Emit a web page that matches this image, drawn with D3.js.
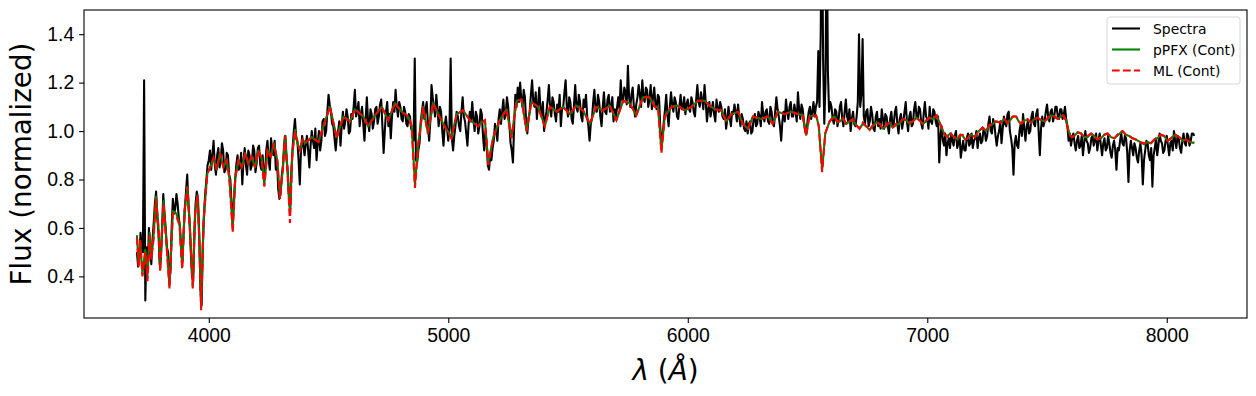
<!DOCTYPE html>
<html>
<head>
<meta charset="utf-8">
<script src="https://cdn.jsdelivr.net/npm/d3@7"></script>
<style>
  body { margin: 0; background: #fff; }
  svg { font-family: "DejaVu Sans", sans-serif; }
  .tick text { font-size: 19.4px; fill: #000; }
  .tick line { stroke: #000; stroke-width: 1.1px; }
  .domain { display: none; }
</style>
</head>
<body>
<div id="chart"></div>
<script>
// observed spectrum, sampled every 5 A from 3700 A (one row = 100 A)
var specStart = 3700;
var specStep = 5;
var specFlux = [
  .50, .44, .47, .58, .52, .50, 1.21, .30, .52, .42, .60, .50, .45, .55, .62, .70, .75, .64, .58, .45,
  .47, .60, .74, .66, .60, .52, .50, .38, .42, .60, .72, .66, .68, .74, .70, .64, .60, .50, .46, .58,
  .68, .75, .82, .70, .62, .50, .40, .38, .58, .70, .75, .72, .58, .35, .28, .52, .66, .74, .80, .86,
  .88, .92, .84, .90, .96, .86, .82, .90, .93, .85, .88, .95, .92, .83, .84, .91, .90, .82, .80, .70,
  .62, .72, .80, .86, .90, .84, .85, .91, .78, .88, .93, .86, .82, .92, .90, .84, .86, .94, .92, .83,
  .87, .93, .94, .86, .84, .90, .80, .83, .92, .96, .88, .84, .97, .92, .90, .96, .84, .88, .76, .72,
  .74, .82, .86, .95, .98, .88, .83, .72, .68, .84, .93, 1.00, 1.05, .97, .96, .88, .78, .92, .98, .94,
  .90, .95, .98, .92, .85, .94, 1.00, .96, .93, 1.01, .88, .95, 1.00, .92, .96, 1.04, 1.05, .98, 1.00, 1.08,
  1.15, 1.11, 1.08, 1.03, 1.02, .97, .92, .98, 1.00, 1.04, .94, 1.02, 1.08, 1.01, 1.04, 1.09, 1.06, .99, 1.00, 1.07,
  1.05, 1.10, 1.17, 1.06, 1.08, 1.12, 1.02, 1.07, 1.10, 1.03, .96, 1.05, 1.14, 1.04, 1.00, 1.09, 1.07, 1.01, 1.04, 1.09,
  1.10, 1.03, 1.06, 1.11, 1.13, 1.02, .91, 1.00, 1.08, 1.12, 1.02, 1.07, .97, 1.06, 1.12, 1.08, 1.17, 1.10, 1.06, 1.12,
  1.10, 1.05, 1.04, 1.10, 1.08, 1.03, 1.02, 1.07, 1.06, 1.01, 1.00, .96, 1.30, .88, .87, .92, .95, 1.04, 1.08, 1.12,
  1.05, 1.09, 1.12, 1.03, .96, 1.04, 1.19, 1.14, 1.10, 1.06, 1.15, 1.09, 1.02, 1.10, 1.08, 1.00, .94, 1.02, 1.06, 1.01,
  .96, 1.02, 1.30, .97, .92, .98, 1.02, 1.08, 1.06, 1.02, 1.00, 1.08, 1.14, 1.06, 1.04, .99, .94, 1.03, 1.08, 1.04,
  1.12, 1.05, 1.00, 1.08, 1.06, .99, 1.02, 1.09, 1.07, .98, .92, 1.00, .95, .86, .84, .90, .88, .93, .96, 1.03,
  1.00, .96, 1.05, 1.09, 1.03, 1.08, 1.13, 1.05, 1.07, 1.14, 1.10, 1.03, .95, .92, .87, 1.02, 1.15, 1.10, 1.18, 1.12,
  1.20, 1.13, 1.10, 1.17, 1.14, 1.04, .99, 1.05, 1.08, 1.15, 1.21, 1.12, 1.10, 1.16, 1.05, 1.11, 1.18, 1.09, 1.06, 1.12,
  1.00, 1.05, 1.08, 1.13, 1.19, 1.10, 1.06, 1.14, 1.12, 1.07, 1.04, 1.11, 1.08, 1.15, 1.02, 1.09, 1.10, 1.16, 1.21, 1.10,
  1.06, 1.14, 1.12, 1.05, 1.03, 1.11, 1.19, 1.10, 1.08, 1.15, 1.12, 1.06, 1.04, 1.13, 1.10, 1.15, 1.06, 1.02, .96, 1.03,
  1.05, 1.12, 1.17, 1.09, 1.08, 1.15, 1.12, 1.06, 1.02, 1.10, 1.16, 1.08, 1.07, 1.13, 1.15, 1.08, 1.10, 1.14, 1.04, 1.09,
  1.06, 1.10, 1.14, 1.09, 1.21, 1.13, 1.12, 1.18, 1.16, 1.11, 1.27, 1.14, 1.10, 1.15, 1.18, 1.10, 1.06, 1.11, 1.14, 1.19,
  1.15, 1.10, 1.21, 1.14, 1.12, 1.18, 1.17, 1.10, 1.13, 1.19, 1.09, 1.14, 1.18, 1.11, 1.09, 1.15, 1.14, 1.02, .95, .98,
  1.04, 1.09, 1.15, 1.07, 1.02, 1.10, 1.16, 1.11, 1.08, 1.14, 1.12, 1.06, 1.05, 1.10, 1.15, 1.09, 1.10, 1.14, 1.07, 1.11,
  1.13, 1.09, 1.08, 1.14, 1.12, 1.08, 1.06, 1.13, 1.19, 1.12, 1.10, 1.16, 1.13, 1.09, 1.19, 1.12, 1.04, 1.09, 1.12, 1.06,
  1.09, 1.12, 1.07, 1.04, 1.13, 1.09, 1.08, 1.12, 1.10, 1.06, 1.05, 1.09, 1.01, 1.05, 1.10, 1.06, 1.02, 1.08, 1.07, 1.11,
  1.08, 1.04, 1.11, 1.06, 1.02, 1.07, 1.05, 1.01, 1.00, 1.04, .99, 1.03, 1.04, .99, 1.00, 1.05, 1.07, 1.02, 1.03, 1.08,
  1.06, 1.02, 1.12, 1.07, 1.04, 1.08, 1.09, 1.04, 1.03, 1.10, 1.08, 1.03, 1.02, 1.08, 1.14, 1.09, 1.06, 1.02, .96, 1.04,
  1.08, 1.04, 1.13, 1.08, 1.05, 1.10, 1.12, 1.06, 1.06, 1.11, 1.08, 1.04, 1.16, 1.09, 1.05, 1.11, 1.09, 1.04, 1.00, .99,
  1.04, 1.08, 1.10, 1.05, 1.08, 1.12, 1.06, 1.10, 1.12, 1.33, 1.10, 1.40, 2.00, 1.30, 1.03, 1.20, 1.90, 1.25, 1.08, 1.12,
  1.10, 1.05, 1.03, 1.09, 1.08, 1.02, 1.05, 1.10, 1.12, 1.05, 1.02, 1.08, 1.13, 1.06, 1.04, 1.09, 1.00, 1.05, 1.08, 1.03,
  1.02, 1.06, 1.12, 1.40, 1.10, 1.15, 1.38, 1.06, 1.03, 1.08, 1.09, 1.02, 1.04, 1.10, 1.07, 1.01, 1.00, 1.06, 1.08, 1.02,
  1.05, 1.01, 1.09, 1.05, 1.01, 1.07, 1.06, 1.02, .99, 1.05, 1.08, 1.02, 1.03, 1.08, 1.10, 1.03, .99, 1.05, 1.07, 1.01,
  1.04, 1.08, 1.12, 1.04, 1.00, 1.06, 1.08, 1.02, 1.03, 1.09, 1.12, 1.06, 1.05, 1.10, 1.09, 1.03, 1.01, 1.07, 1.12, 1.06,
  1.05, 1.01, 1.10, 1.04, 1.03, 1.09, 1.08, 1.04, 1.02, 1.06, .87, .98, 1.02, .96, .94, .99, .90, .95, .97, .93,
  .99, .96, .94, .98, 1.00, .93, .95, .98, .89, .93, .96, .92, .92, .97, .99, .94, .95, .99, .93, .96,
  .97, 1.00, .93, .97, .99, .95, .96, 1.01, 1.00, .96, .98, 1.03, 1.06, 1.00, .99, 1.05, 1.03, .98, .94, .98,
  1.00, 1.04, .95, 1.01, 1.06, 1.03, 1.02, 1.07, 1.08, 1.00, .97, .93, .82, .95, .98, .94, .93, 1.00, 1.03, .98,
  1.07, 1.01, .96, 1.02, 1.04, .99, 1.00, 1.06, 1.08, 1.03, 1.02, 1.07, 1.09, 1.00, .90, 1.01, 1.06, 1.02, 1.04, 1.08,
  1.11, 1.06, 1.04, 1.08, 1.09, 1.04, 1.06, 1.10, 1.10, 1.06, 1.05, 1.09, 1.09, 1.05, 1.07, 1.10, 1.05, 1.02, .96, .99,
  .94, .97, .99, .95, .92, .96, .98, .93, .94, .98, .90, .95, 1.00, .96, .95, .91, .93, .97, .98, .94,
  .96, .99, .92, .96, .99, .94, .90, .95, .97, .92, .93, .98, .95, .91, .89, .94, .96, .92, .84, .93,
  .92, .96, .99, .95, .94, .98, .97, .91, .79, .92, .96, .93, .90, .95, .93, .89, .87, .92, .95, .90,
  .78, .88, .92, .96, .95, .90, .88, .93, .77, .90, .93, .97, .90, .94, .99, .96, .95, .91, .92, .96,
  .98, .94, .90, .95, .96, .92, 1.00, .96, .93, .98, .97, .93, .91, .96, .99, .95, .94, .99, .98, .94,
  .96, .99, .99, .98
];

// continuum fits share one wavelength list
var modelWave = [
  3700, 3707, 3714, 3723, 3735, 3744, 3753, 3760, 3769, 3780,
  3790, 3797, 3811, 3822, 3836, 3850, 3864, 3878, 3889, 3899,
  3911, 3922, 3933, 3943, 3953, 3961, 3968, 3978, 3986, 3994,
  4006, 4020, 4033, 4047, 4061, 4075, 4086, 4100, 4111, 4124,
  4138, 4152, 4165, 4179, 4193, 4207, 4221, 4232, 4245, 4259,
  4272, 4286, 4297, 4309, 4318, 4328, 4339, 4349, 4360, 4370,
  4381, 4392, 4402, 4430, 4458, 4478, 4506, 4534, 4562, 4590,
  4610, 4645, 4666, 4694, 4722, 4750, 4777, 4805, 4833, 4847,
  4861, 4875, 4895, 4915, 4937, 4958, 4979, 5013, 5035, 5062,
  5090, 5125, 5132, 5153, 5167, 5188, 5215, 5243, 5264, 5285,
  5306, 5327, 5347, 5375, 5403, 5424, 5452, 5480, 5507, 5535,
  5563, 5591, 5618, 5646, 5674, 5702, 5730, 5757, 5785, 5813,
  5840, 5862, 5876, 5890, 5904, 5932, 5959, 5987, 6015, 6043,
  6070, 6091, 6112, 6140, 6161, 6182, 6210, 6230, 6251, 6272,
  6307, 6335, 6355, 6376, 6404, 6432, 6460, 6480, 6494, 6508,
  6536, 6547, 6561, 6574, 6592,
  6603, 6613, 6624, 6634, 6648, 6662, 6676, 6689, 6703, 6717,
  6731, 6745, 6759, 6773, 6787, 6801, 6815, 6828, 6842, 6856,
  6870, 6884, 6898, 6912, 6926, 6940, 6954, 6967, 6981, 6995,
  7009, 7023, 7040, 7049, 7058, 7072, 7085, 7096, 7106, 7117,
  7127, 7138, 7148, 7159, 7169, 7180, 7190, 7200, 7210, 7221,
  7231, 7245, 7259, 7273, 7287, 7305, 7322, 7333, 7343, 7357,
  7371, 7382, 7392, 7405, 7419, 7433, 7447, 7461, 7475, 7489,
  7503, 7517, 7531, 7545, 7558, 7568, 7579, 7593, 7604, 7614,
  7628, 7642, 7656, 7670, 7684, 7697, 7711, 7725, 7739, 7753,
  7767, 7781, 7798, 7815, 7829, 7843, 7857, 7871, 7888, 7906,
  7920, 7934, 7948, 7961, 7975, 7989, 8003, 8017, 8035, 8052,
  8066, 8080, 8098, 8115
];

var pfxFlux = [
  .57, .45, .54, .41, .51, .40, .58, .48, .56, .73,
  .60, .43, .71, .56, .36, .67, .66, .62, .44, .67,
  .77, .59, .36, .67, .735, .54, .27, .62, .73, .825,
  .85, .887, .84, .91, .85, .88, .81, .60, .81, .88,
  .85, .91, .865, .895, .85, .92, .887, .78, .92, .895,
  .95, .88, .73, .84, .98, .85, .66, .91, 1.005, .95,
  .92, .965, .95, .975, .955, 1.02, 1.10, .975, 1.06, 1.04,
  1.09, 1.06, 1.02, 1.065, 1.10, 1.045, 1.115, 1.08, 1.06, 1.02,
  .78, .95, 1.10, .99, 1.115, 1.07, 1.03, .975, 1.07, 1.085,
  1.045, 1.02, 1.03, 1.045, .87, .975, 1.045, 1.09, .975, 1.125,
  1.13, 1.00, 1.12, 1.10, 1.02, 1.10, 1.08, 1.10, 1.07, 1.105,
  1.085, 1.03, 1.10, 1.085, 1.105, 1.045, 1.125, 1.115, 1.065, 1.14,
  1.14, 1.10, 1.10, .92, 1.06, 1.10, 1.105, 1.085, 1.10, 1.125,
  1.125, 1.105, 1.09, 1.085, 1.04, 1.07, 1.08, 1.03, 1.01, 1.06,
  1.05, 1.06, 1.03, 1.08, 1.07, 1.08, 1.07, 1.065, .985, 1.06,
  1.065, 1.02, .84, .99, 1.04,
  1.055, 1.06, 1.035, 1.04, 1.05, 1.03, 1.04, 1.045, 1.025, 1.01,
  1.03, 1.02, 1.005, 1.02, 1.035, 1.03, 1.01, 1.02, 1.035, 1.015,
  1.025, 1.03, 1.05, 1.045, 1.03, 1.04, 1.055, 1.045, 1.03, 1.04,
  1.055, 1.05, 1.06, 1.04, 1.02, .985, .98, .99, .98, .975,
  .965, .985, .98, .965, .97, .985, .98, .975, .995, 1.005,
  1.015, 1.00, 1.02, 1.03, 1.04, 1.035, 1.05, 1.035, 1.04, 1.06,
  1.06, 1.04, 1.03, 1.045, 1.045, 1.035, 1.05, 1.055, 1.045, 1.04,
  1.05, 1.065, 1.06, 1.05, 1.06, 1.065, 1.045, .99, .975, .98,
  .995, .99, .975, .975, .99, .98, .965, .97, .985, .99,
  .975, .97, .985, 1.00, .985, .98, .97, .965, .955, .945,
  .955, .95, .965, .97, .985, .98, .96, .97, .985, .975,
  .96, .965, .955, .95
];

var mlFlux = [
  .56, .44, .55, .40, .50, .38, .57, .47, .55, .72,
  .60, .42, .70, .55, .35, .66, .65, .61, .43, .67,
  .77, .58, .35, .66, .735, .53, .26, .61, .73, .825,
  .85, .89, .84, .91, .85, .88, .80, .58, .81, .88,
  .85, .91, .865, .895, .85, .92, .885, .77, .92, .895,
  .95, .88, .72, .84, .98, .85, .62, .91, 1.00, .95,
  .92, .965, .95, .975, .955, 1.02, 1.10, .97, 1.06, 1.04,
  1.09, 1.06, 1.02, 1.065, 1.10, 1.045, 1.115, 1.08, 1.06, 1.02,
  .765, .95, 1.10, .99, 1.115, 1.07, 1.03, .97, 1.07, 1.085,
  1.045, 1.02, 1.03, 1.045, .86, .975, 1.045, 1.09, .97, 1.125,
  1.13, 1.00, 1.12, 1.10, 1.02, 1.10, 1.08, 1.10, 1.07, 1.105,
  1.085, 1.03, 1.10, 1.085, 1.105, 1.045, 1.125, 1.115, 1.065, 1.14,
  1.14, 1.10, 1.10, .91, 1.06, 1.10, 1.105, 1.085, 1.10, 1.125,
  1.125, 1.105, 1.09, 1.085, 1.04, 1.07, 1.08, 1.03, 1.01, 1.06,
  1.05, 1.06, 1.03, 1.08, 1.07, 1.08, 1.07, 1.065, .98, 1.06,
  1.065, 1.02, .83, .99, 1.04,
  1.05, 1.06, 1.04, 1.04, 1.055, 1.03, 1.04, 1.05, 1.025, 1.01,
  1.035, 1.02, 1.005, 1.025, 1.035, 1.03, 1.01, 1.025, 1.035, 1.015,
  1.03, 1.03, 1.05, 1.045, 1.035, 1.04, 1.055, 1.045, 1.03, 1.045,
  1.055, 1.05, 1.065, 1.04, 1.02, .985, .975, .99, .98, .97,
  .965, .985, .985, .965, .97, .985, .98, .975, .995, 1.005,
  1.015, 1.00, 1.025, 1.03, 1.04, 1.035, 1.05, 1.035, 1.045, 1.06,
  1.06, 1.04, 1.03, 1.045, 1.05, 1.035, 1.05, 1.055, 1.045, 1.04,
  1.055, 1.065, 1.06, 1.05, 1.06, 1.065, 1.045, .985, .975, .98,
  .995, .99, .975, .98, .99, .98, .965, .975, .985, .99,
  .975, .97, .99, 1.00, .985, .98, .97, .965, .955, .95,
  .955, .95, .965, .975, .985, .98, .96, .97, .985, .975,
  .96, .965, .955, .955
];

var xTicks = [4000, 5000, 6000, 7000, 8000];
var yTicks = [0.4, 0.6, 0.8, 1.0, 1.2, 1.4];
var legendLabels = ["Spectra", "pPFX (Cont)", "ML (Cont)"];

var svgWidth = 1256;
var svgHeight = 396;
var margin = { top: 10, right: 9, bottom: 78, left: 84 };
var width = svgWidth - margin.left - margin.right;
var height = svgHeight - margin.top - margin.bottom;

var svg = d3.select("#chart")
    .append("svg")
    .attr("width", svgWidth)
    .attr("height", svgHeight);

var chartGroup = svg.append("g")
    .attr("transform", `translate(${margin.left}, ${margin.top})`);

// scales (matplotlib style 5% x padding, y limited at 1.5)
var xScale = d3.scaleLinear()
    .domain([3479, 8335])
    .range([0, width]);
var yScale = d3.scaleLinear()
    .domain([0.228, 1.5])
    .range([height, 0]);

chartGroup.append("clipPath")
    .attr("id", "plotClip")
    .append("rect")
    .attr("width", width)
    .attr("height", height);

var specData = specFlux.map((f, i) => [specStart + i * specStep, f]);
var pfxData = modelWave.map((w, i) => [w, pfxFlux[i]]);
var mlData = modelWave.map((w, i) => [w, mlFlux[i]]);

var line = d3.line()
    .x(d => xScale(d[0]))
    .y(d => yScale(d[1]));

var plot = chartGroup.append("g").attr("clip-path", "url(#plotClip)");

plot.append("path")
    .datum(specData)
    .attr("d", line)
    .attr("fill", "none")
    .attr("stroke", "#000")
    .attr("stroke-width", 2.08)
    .attr("stroke-linejoin", "round");

plot.append("path")
    .datum(pfxData)
    .attr("d", line)
    .attr("fill", "none")
    .attr("stroke", "green")
    .attr("stroke-width", 2.08)
    .attr("stroke-linejoin", "round");

plot.append("path")
    .datum(mlData)
    .attr("d", line)
    .attr("fill", "none")
    .attr("stroke", "red")
    .attr("stroke-width", 2.08)
    .attr("stroke-dasharray", "7.7,3.3");

// axes
chartGroup.append("g")
    .attr("transform", `translate(0, ${height})`)
    .call(d3.axisBottom(xScale).tickValues(xTicks).tickSize(4.9).tickPadding(4.9).tickFormat(d3.format("d")));

chartGroup.append("g")
    .call(d3.axisLeft(yScale).tickValues(yTicks).tickSize(4.9).tickPadding(4.9).tickFormat(d3.format(".1f")));

chartGroup.append("rect")
    .attr("width", width)
    .attr("height", height)
    .attr("fill", "none")
    .attr("stroke", "#000")
    .attr("stroke-width", 1.1);

// axis labels
svg.append("text")
    .attr("transform", `translate(31, ${margin.top + height / 2}) rotate(-90)`)
    .attr("text-anchor", "middle")
    .style("font-size", "27.8px")
    .text("Flux (normalized)");

var xLabel = svg.append("text")
    .attr("x", margin.left + width / 2)
    .attr("y", 380)
    .attr("text-anchor", "middle")
    .style("font-size", "27.8px");
xLabel.append("tspan").style("font-style", "italic").text("λ");
xLabel.append("tspan").text(" (");
xLabel.append("tspan").style("font-style", "italic").text("Å");
xLabel.append("tspan").text(")");

// legend
var legend = svg.append("g")
    .attr("transform", "translate(1107, 17)");

legend.append("rect")
    .attr("width", 133)
    .attr("height", 67)
    .attr("rx", 2.8)
    .attr("fill", "#fff")
    .attr("fill-opacity", 0.8)
    .attr("stroke", "#d6d6d6")
    .attr("stroke-width", 1);

var legendColors = ["#000", "green", "red"];
legendLabels.forEach((label, i) => {
    var ly = 11.5 + i * 21;
    legend.append("line")
        .attr("x1", 5)
        .attr("x2", 33)
        .attr("y1", ly)
        .attr("y2", ly)
        .attr("stroke", legendColors[i])
        .attr("stroke-width", 2.08)
        .attr("stroke-dasharray", i == 2 ? "7.7,3.3" : null);
    legend.append("text")
        .attr("x", 46)
        .attr("y", ly + 5)
        .style("font-size", "13.9px")
        .text(label);
});
</script>
</body>
</html>
